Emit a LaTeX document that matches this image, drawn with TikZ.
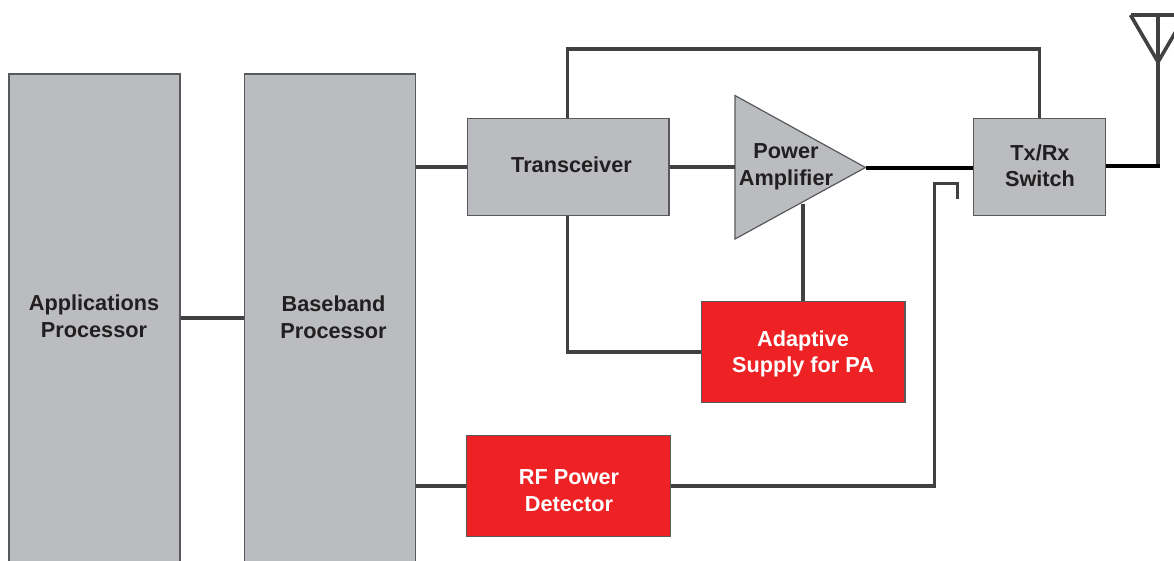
\documentclass[tikz,border=0pt]{standalone}
\usepackage{fontspec}
\setmainfont{Liberation Sans}
\definecolor{boxgray}{HTML}{BBBCBF}
\definecolor{linegray}{HTML}{414042}
\definecolor{edgegray}{HTML}{58595B}
\definecolor{boxred}{HTML}{EE2224}
\definecolor{txt}{HTML}{231F20}
\begin{document}
\begin{tikzpicture}[x=1pt,y=-1pt,
  lbl/.style={font=\fontsize{21.7}{26.5}\selectfont\bfseries,align=center},
  gbox/.style={draw=edgegray,line width=1.2pt,fill=boxgray,inner sep=0pt},
  rbox/.style={draw=edgegray,line width=1.2pt,fill=boxred,inner sep=0pt},
  wire/.style={draw=linegray,line width=3.6pt,line join=miter},
  blk/.style={draw=black,line width=3.8pt}]
\useasboundingbox (0,0) rectangle (1174,561);
\begin{scope}
\clip (0,0) rectangle (1174,561);
\coordinate (fbk) at (957.5,199);
\coordinate (fbt) at (957.5,183.5);
\coordinate (fbc) at (934.5,183.5);
\coordinate (anttip) at (1158,62);
\coordinate (antb) at (1158,166);
\coordinate (antl) at (1130.5,15);
\coordinate (antr) at (1185.5,15);
\coordinate (anttop) at (1158,15);
\coordinate (tc1) at (567.5,49);
\coordinate (tc2) at (1039.5,49);
\node[gbox,minimum width=171pt,minimum height=520pt] (app) at (94.5,334) {};
\node[gbox,minimum width=171pt,minimum height=520pt] (bb) at (330,334) {};
\node[lbl,text=txt] (applbl) at (94,316) {Applications\\Processor};
\node[lbl,text=txt] (bblbl) at (333.5,317) {Baseband\\Processor};
\node[gbox,minimum width=201.5pt,minimum height=97pt] (tr) at (568.2,167) {};
\node[lbl,text=txt] (trlbl) at (571.5,165) {Transceiver};
\node[gbox,minimum width=132pt,minimum height=97.5pt] (sw1) at (1039.7,167) {};
\node[lbl,text=txt] (swlbl) at (1040,165.5) {Tx/Rx\\Switch};
\node[rbox,minimum width=203.5pt,minimum height=101pt] (ad) at (803.2,352) {};
\node[lbl,text=white] (adlbl) at (803,354) {Adaptive\\Supply for PA};
\node[rbox,minimum width=204pt,minimum height=101pt] (rf) at (568.5,486) {};
\node[lbl,text=white] (rflbl) at (569,490.5) {RF Power\\Detector};
\coordinate (pa1) at (735,95.5);
\coordinate (pa2) at (735,239);
\coordinate (pa3) at (865.5,167.5);
\draw[draw=edgegray,line width=1.2pt,fill=boxgray] (pa1) -- (pa3) -- (pa2) -- cycle;
\node[lbl,text=txt] (pa) at (786,167) {Power\\Amplifier};
\draw[wire] (tr.north -| tc1) -- (tc1) -- (tc2) -- (sw1.north -| tc2);
\draw[wire] (app.east |- 0,318) -- (bb.west |- 0,318);
\draw[wire] (bb.east |- tr.west) -- (tr.west);
\draw[wire] (tr.east) -- (735,167);
\draw[wire] (bb.east |- rf.west) -- (rf.west);
\draw[wire] (tr.south -| tc1) |- (ad.west);
\draw[wire] (803,204) -- (ad.north -| 803,0);
\draw[blk] (pa3 |- 0,168) -- (sw1.west |- 0,168);
\draw[wire] (rf.east) -| (fbc) -- (fbt) -- (fbk);
\draw[wire] (antb) -- (anttip);
\draw[wire,line join=miter] (antl) -- (anttip) -- (antr);
\draw[wire] (antl) -- (antr);
\draw[wire] (anttop) -- (anttip);
\draw[blk] (sw1.east |- antb) -- ([xshift=1.8pt]antb);
\end{scope}
\end{tikzpicture}
\end{document}
